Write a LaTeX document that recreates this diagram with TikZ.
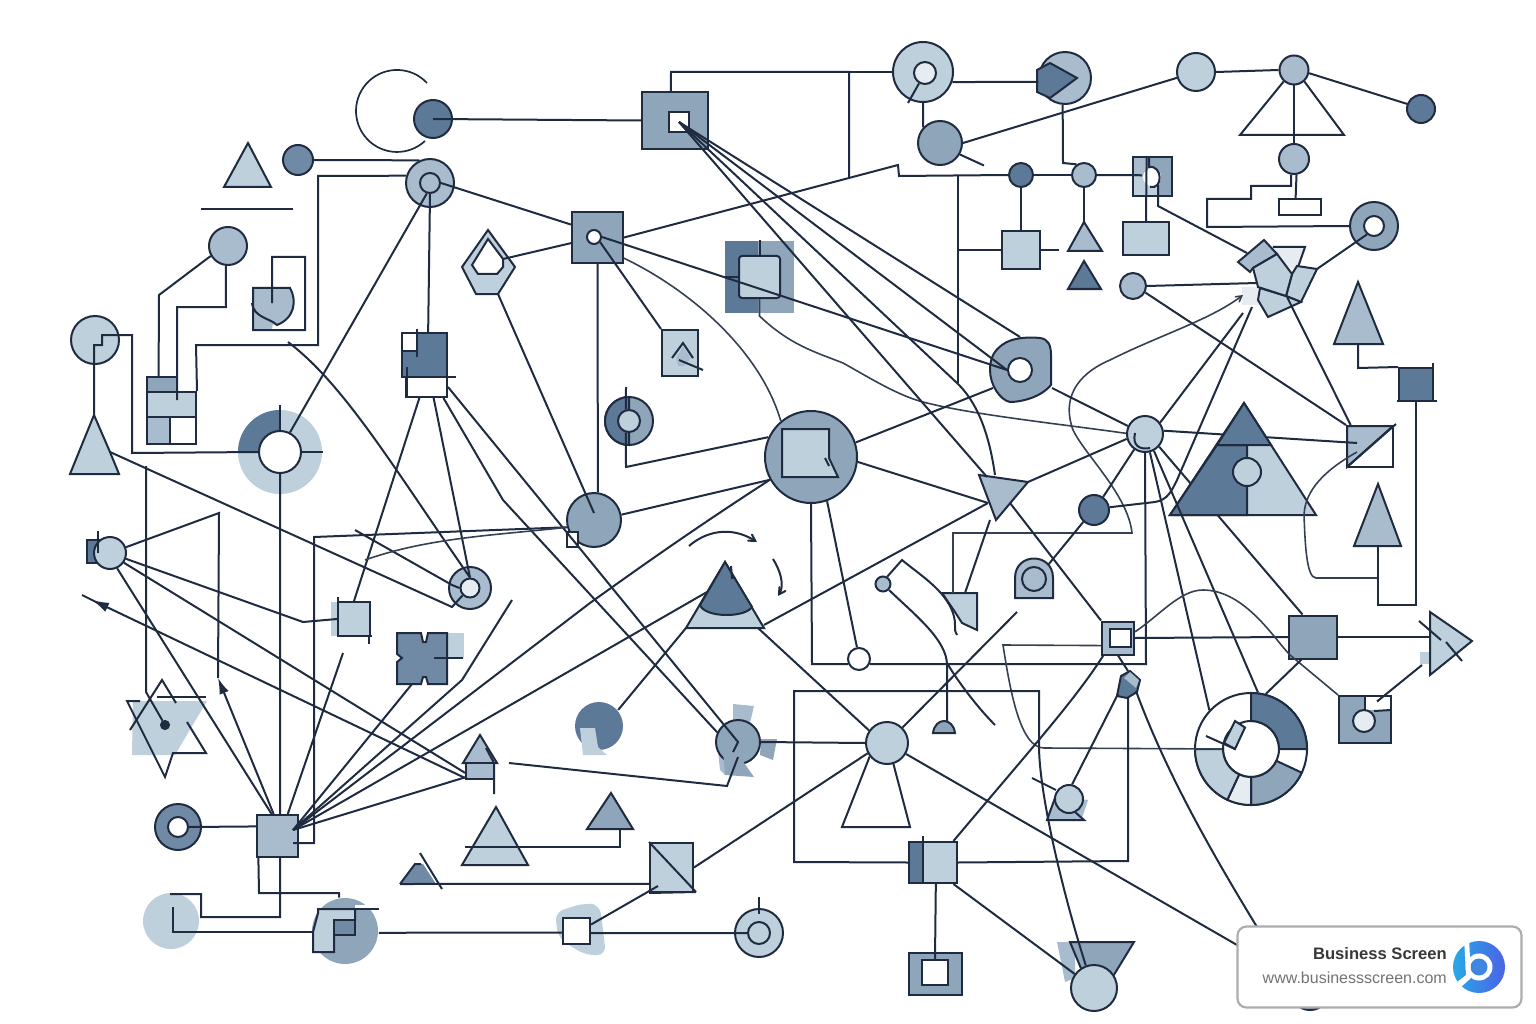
\documentclass[tikz,border=0pt]{standalone}
\usepackage{fontspec}
\newfontfamily\tagfont{Liberation Sans}
\usetikzlibrary{arrows,arrows.meta}
\definecolor{ink}{HTML}{1F2B40}
\definecolor{dark}{HTML}{5C7998}
\definecolor{steel}{HTML}{7089A5}
\definecolor{mid}{HTML}{8FA5BA}
\definecolor{soft}{HTML}{A8BCCD}
\definecolor{pale}{HTML}{BDD0DC}
\definecolor{faint}{HTML}{E6ECF0}
\definecolor{logoL}{HTML}{29A9E6}
\definecolor{logoR}{HTML}{4B63E6}
\definecolor{logoC}{HTML}{3F86E0}
\tikzstyle{disc} = [circle, draw=ink, line width=2pt, inner sep=0pt]
\tikzstyle{block} = [rectangle, draw=ink, line width=2pt, inner sep=0pt]
\tikzstyle{form} = [draw=ink, line width=2pt]
\tikzstyle{line} = [draw=ink, line width=2pt]
\tikzstyle{wire} = [draw=ink!90, line width=1.6pt]
\tikzset{dim/.style n args={2}{minimum width=#1,minimum height=#2}}
\newcommand{\donutpart}[3]{\draw [form, fill=#3, shift={(1251,749)}] (#1:28) arc[start angle=#1,end angle=#2,radius=28] -- (#2:56) arc[start angle=#2,end angle=#1,radius=56] -- cycle;}

\begin{document}
\begin{tikzpicture}[x=1pt, y=-1pt]
	\useasboundingbox (0,0) rectangle (1536,1024);
	% Place nodes
	\node [disc, fill=dark, minimum size=38] (moon) at (433,119) {};
	\node [disc, fill=steel, minimum size=30] (dotA) at (298,160) {};
	\node [disc, fill=soft, minimum size=48] (ringA) at (430,183) {};
	\node [disc, fill=soft, minimum size=20] (holeA) at (430,183) {};
	\node [disc, fill=soft, minimum size=38] (discB) at (228,246) {};
	\node [disc, fill=pale, minimum size=48] (discC) at (95,340) {};
	\node [disc, draw=none, fill=pale, minimum size=84] (ringB) at (280,452) {};
	\fill [dark] (280,452) -- (238,452) arc[start angle=180,end angle=270,radius=42] -- cycle;
	\node [disc, fill=white, minimum size=42] (holeB) at (280,452) {};
	\node [block, fill=mid, dim={30}{15}] (stackA) at (162,384.5) {};
	\node [block, fill=pale, dim={49}{25}] (stackB) at (171.5,404.5) {};
	\node [block, fill=soft, dim={23}{27}] (stackC) at (158.5,430.5) {};
	\node [block, fill=white, dim={26}{27}] (stackD) at (183,430.5) {};
	\draw [form, fill=pale] (248,143) -- (224,187) -- (271,187) -- cycle;
	\path [line] (201,209) -- (293,209);
	\draw [form, fill=pale] (94,415) coordinate (triD) -- (70,474) -- (119,474) -- (110,452) coordinate (triDr) -- cycle;
	\fill [soft] (253,288) -- (290,288) .. controls (297,300) and (295,318) .. (277,325) .. controls (272,325) and (273,322) .. (272,330) -- (253,330) -- cycle;
	\path [line] (272,303) -- (272,257) -- (305,257) -- (305,330) -- (253,330) -- (253,288) -- (290,288) .. controls (297,300) and (295,318) .. (277,325) .. controls (270,318) and (254,318) .. (252,303);
	\draw [form, fill=pale] (488,230) -- (515,267) -- (498,294) coordinate (hexB) -- (476,294) -- (462,267) -- cycle;
	\draw [form, fill=white] (488,239) -- (503,259) coordinate (hexR) -- (503,267) -- (497,274) -- (478,274) -- (472,265) -- cycle;
	\node [block, fill=dark, dim={45}{44}] (keepA) at (424.5,355) {};
	\node [block, fill=white, dim={41}{20}] (keepB) at (426.5,387) {};
	\node [block, fill=white, dim={15}{18}] (keepC) at (409.5,342) {};
	\node [block, fill=mid, dim={51}{51}] (gate) at (597.5,237.5) {};
	\node [disc, fill=white, minimum size=14] (holeG) at (594,237) {};
	\node [block, fill=mid, dim={66}{57}] (port) at (675,120.5) {};
	\node [block, fill=white, dim={20}{20}] (portin) at (679,122) {};
	\node [block, draw=none, fill=mid, dim={69}{72}] (frame) at (759.5,277) {};
	\node [block, draw=none, fill=dark, dim={33}{72}] (frameL) at (741.5,277) {};
	\node [block, fill=pale, rounded corners=3pt, dim={41}{42}] (framein) at (759.5,277) {};
	\node [block, fill=pale, dim={36}{46}] (note) at (680,353) {};
	\fill [soft] (683,347) -- (691,358) -- (684,366) -- (678,366) -- (676,358) -- cycle;
	\node [disc, fill=mid, minimum size=48] (ringC) at (629,421) {};
	\draw [form, fill=dark] (629,397) arc[start angle=270,end angle=90,radius=24] -- cycle;
	\node [disc, fill=pale, minimum size=22] (holeC) at (629,421) {};
	\node [disc, fill=mid, minimum size=92] (core) at (811,457) {};
	\draw [form, fill=pale] (782,429) -- (829,429) -- (829,458) -- (838,477) -- (782,477) -- cycle;
	\node [disc, fill=pale, minimum size=60] (ringD) at (923,72) {};
	\node [disc, fill=faint, minimum size=22] (holeD) at (925,73) {};
	\node [disc, fill=soft, minimum size=52] (kite) at (1065,78) {};
	\draw [form, fill=dark] (1037,70) -- (1050,63) -- (1077,78) -- (1050,98) -- (1037,92) -- cycle;
	\node [disc, fill=mid, minimum size=44] (discE) at (940,143) {};
	\node [disc, fill=pale, minimum size=38] (discF) at (1196,72) {};
	\node [disc, fill=soft, minimum size=29] (discG) at (1294,70) {};
	\node [disc, fill=dark, minimum size=28] (discH) at (1421,109) {};
	\node [disc, fill=soft, minimum size=30] (discI) at (1294,159) {};
	\node [block, fill=white, dim={42}{16}] (rectJ) at (1300,207) {};
	\node [disc, fill=mid, minimum size=48] (ringE) at (1374,226) {};
	\node [disc, fill=white, minimum size=20] (holeE) at (1374,226) {};
	\node [disc, fill=dark, minimum size=24] (dotK) at (1021,175) {};
	\node [block, fill=pale, dim={38}{38}] (boxK) at (1021,250) {};
	\node [disc, fill=soft, minimum size=24] (dotL) at (1084,175) {};
	\draw [form, fill=soft] (1084,222) coordinate (triE) -- (1068,251) -- (1102,251) -- cycle;
	\draw [form, fill=dark] (1084,261) -- (1068,289) -- (1101,289) -- cycle;
	\node [block, fill=mid, dim={39}{39}] (splitM) at (1152.5,176.5) {};
	\fill [soft] (1134,158) rectangle (1149,195);
	\fill [pale] (1134,177) rectangle (1158,195);
	\node [disc, draw=none, fill=white, minimum size=18] (holeM) at (1152,177) {};
	\draw [form] (1149,157) -- (1149,167) .. controls (1163,165) and (1163,190) .. (1150,187);
	\node [block, fill=pale, dim={46}{33}] (boxM) at (1146,238.5) {};
	\node [disc, fill=soft, minimum size=26] (discN) at (1133,286) {};
	% cluster of plates
	\fill [faint] (1242,287) rectangle (1260,305);
	\fill [faint] (1264,245) -- (1305,247) -- (1297,270) -- (1273,262) -- cycle;
	\path [line] (1273,247) -- (1305,247) -- (1297,270);
	\draw [form, fill=soft] (1238,262) -- (1264,240) -- (1277,254) -- (1253,268) -- (1250,272) -- cycle;
	\draw [form, fill=pale] (1297,266) -- (1317,269) coordinate (clusR) -- (1301,302) -- (1286,296) -- (1292,274) -- cycle;
	\draw [form, fill=pale] (1258,300) -- (1268,317) -- (1301,302) -- (1286,296) -- (1260,288) -- cycle;
	\draw [form, fill=pale] (1253,268) -- (1277,254) -- (1292,274) -- (1286,296) -- (1258,287) -- cycle;
	\coordinate (clusL) at (1247,253);
	\coordinate (clusW) at (1257,283);
	\coordinate (clusB) at (1287,297);
	\coordinate (clusS) at (1243,313);
	\coordinate (clusT) at (1252,307);
	\coordinate (clusA) at (1243,295);
	\draw [form, fill=soft] (1358,282) -- (1334,344) -- (1383,344) -- cycle;
	\coordinate (triM) at (1358,344);
	\node [block, fill=dark, dim={34}{33}] (sink) at (1416,384.5) {};
	\node [disc, fill=pale, minimum size=36] (hub) at (1145,434) {};
	\node [block, fill=white, dim={46}{41}] (split) at (1370,446.5) {};
	\draw [form, fill=soft] (1347,426) -- (1393,426) -- (1347,467) -- cycle;
	\draw [form] (1347,467) -- (1396,424);
	\node [block, fill=mid, dim={48}{43}] (relay) at (1313,637) {};
	% Draw edges behind the big triangle
	\path [line] (hub.10) -- (1357,443);
	\path [line] (hub.-42) -- (relay.115);
	\draw [form, fill=pale] (1244,403) -- (1170,515) -- (1316,515) -- cycle;
	\draw [form, fill=dark] (1247,515) -- (1170,515) -- (1217,445) -- (1247,445) -- cycle;
	\draw [form, fill=dark] (1244,403) -- (1217,445) -- (1271,445) -- cycle;
	\path [line] (1247,445) -- (1247,515);
	\node [disc, fill=pale, minimum size=28] (discO) at (1247,472) {};
	\draw [form, fill=soft] (1378,484) -- (1354,546) -- (1401,546) -- cycle;
	\coordinate (triN) at (1378,546);
	\node [disc, fill=dark, minimum size=30] (discP) at (1094,510) {};
	\draw [form, fill=soft] (1015,598) -- (1015,578) .. controls (1015,552) and (1053,552) .. (1053,578) -- (1053,598) -- cycle;
	\coordinate (hoodR) at (1048,565);
	\node [disc, fill=soft, minimum size=24] (hoodin) at (1034,579) {};
	\draw [form, fill=soft] (979,475) coordinate (triC) -- (1028,482) coordinate (triCr) -- (996,520) -- cycle;
	\coordinate (triCt) at (987,477);
	\coordinate (triCl) at (988,503);
	\coordinate (triCb) at (990,520);
	\coordinate (triCs) at (1010,503);
	\draw [form, fill=pale] (942,593) -- (977,593) -- (977,630) -- (962,623) -- (955,612) -- cycle;
	\node [disc, fill=soft, minimum size=15] (dotQ) at (883,584) {};
	\node [disc, fill=white, minimum size=22] (tap) at (859,659) {};
	\draw [form, fill=mid] (933,733) .. controls (935,717) and (953,717) .. (955,733) -- cycle;
	\node [disc, fill=mid, minimum size=54] (discR) at (594,520) {};
	\node [block, fill=white, dim={11}{15}] (smallbox) at (572.5,539.5) {};
	\node [disc, fill=soft, minimum size=42] (ringF) at (470,588) {};
	\node [disc, fill=faint, minimum size=19] (holeF) at (470,588) {};
	\fill [pale] (331,602) rectangle (345,636);
	\node [block, fill=pale, dim={32}{34}] (boxS) at (354,619) {};
	\fill [pale] (447,633) rectangle (464,658);
	\draw [form, fill=steel] (397,633) -- (421,633) -- (423,642) -- (426,642) -- (428,633) -- (447,633) -- (447,684) -- (428,684) -- (426,677) -- (423,677) -- (421,684) -- (397,684) -- (397,662) -- (402,658) -- (397,654) -- cycle;
	\coordinate (crossB) at (412,684);
	\node [block, fill=dark, dim={13}{23}] (discTb) at (93.5,551.5) {};
	\node [disc, fill=pale, minimum size=32] (discT) at (110,553) {};
	\fill [pale] (133,701) -- (207,701) -- (175,755) -- (132,755) -- cycle;
	\node [disc, fill=ink, minimum size=8] (starDot) at (165,725) {};
	\node [disc, fill=steel, minimum size=46] (ringG) at (178,827) {};
	\node [disc, fill=white, minimum size=20] (holeR) at (178,827) {};
	\node [block, fill=soft, dim={41}{42}] (root) at (277.5,836) {};
	\node [disc, draw=none, fill=pale, minimum size=56] (moonB) at (171,921) {};
	\node [disc, draw=none, fill=mid, minimum size=66] (stepA) at (345,931) {};
	\draw [form, fill=pale] (313,952) -- (313,932) coordinate (stepL) -- (318,913) -- (318,909) -- (355,909) -- (355,920) -- (334,920) -- (334,952) -- cycle;
	\fill [white] (355,905) rectangle (380,908);
	\path [line] (355,909) -- (379,909);
	\node [block, fill=steel, dim={21}{15}] (stepB) at (344.5,927.5) {};
	\draw [form, fill=pale] (496,807) -- (462,865) -- (528,865) -- cycle;
	\draw [form, fill=mid] (611,793) -- (587,829) coordinate (triKl) -- (633,829) -- cycle;
	\coordinate (triK) at (620,829);
	\fill [steel] (400,884) -- (415,864) -- (423,864) -- (436,884) -- cycle;
	\path [line] (400,884) -- (415,864) -- (421,864);
	\coordinate (triL) at (400,884);
	\draw [form, fill=soft] (480,735) -- (463,763) -- (497,763) -- cycle;
	\node [block, fill=soft, dim={28}{16}] (cap) at (480,771) {};
	\node [disc, draw=none, fill=dark, minimum size=48] (pie) at (599,726) {};
	\fill [pale] (580,728) -- (595,728) -- (598,747) -- (607,755) -- (583,755) -- cycle;
	\draw [form, fill=pale] (725,562) -- (686,628) coordinate (triHl) -- (764,628) coordinate (triHr) -- cycle;
	\draw [form, fill=dark] (725,562) -- (752,607) .. controls (745,618) and (705,618) .. (700,605) -- cycle;
	\path [line] (731,566) -- (732,578) -- (735,577);
	\coordinate (triHm) at (707,592);
	\coordinate (triHe) at (764,625);
	\coordinate (triHb) at (758,628);
	\fill [soft] (733,704) -- (754,706) -- (750,723) -- (733,722) -- cycle;
	\fill [mid] (761,739) -- (777,739) -- (773,760) -- (760,755) -- cycle;
	\fill [soft] (718,750) -- (737,753) -- (725,775) -- (720,770) -- cycle;
	\node [disc, fill=mid, minimum size=44] (spike) at (738,742) {};
	\fill [mid] (723,750) -- (737,753) -- (754,777) -- (725,775) -- cycle;
	\node [disc, fill=pale, minimum size=42] (hubB) at (887,743) {};
	\node [block, fill=dark, dim={14}{41}] (footL) at (916,862.5) {};
	\node [block, fill=pale, dim={34}{41}] (footR) at (940,862.5) {};
	\node [block, fill=mid, dim={53}{42}] (boxU) at (935.5,974) {};
	\node [block, fill=white, dim={26}{25}] (boxUin) at (935,972.5) {};
	\fill [pale, rounded corners=9pt] (555,912) -- (585,903) -- (600,905) -- (606,955) -- (585,955) -- (558,938) -- cycle;
	\node [block, fill=white, dim={27}{26}] (wbox) at (576.5,931) {};
	\node [disc, fill=pale, minimum size=48] (ringH) at (759,933) {};
	\node [disc, fill=pale, minimum size=22] (holeH) at (759,933) {};
	\node [block, fill=pale, dim={43}{49}] (slash) at (671.5,867.5) {};
	\node [block, fill=soft, dim={32}{33}] (link) at (1118,638) {};
	\node [block, fill=white, dim={21}{18}] (linkin) at (1120,638) {};
	\fill [pale] (1420,652) rectangle (1440,664);
	\draw [form, fill=pale] (1430,612) -- (1472,641) -- (1430,675) -- cycle;
	\coordinate (triO) at (1430,637);
	\coordinate (triOb) at (1422,665);
	\node [block, fill=mid, dim={52}{47}] (pad) at (1365,719.5) {};
	\fill [white] (1365,697) rectangle (1390,710);
	\node [disc, fill=faint, minimum size=22] (holeP) at (1364,721) {};
	\node [disc, fill=white, minimum size=112] (donut) at (1251,749) {};
	\node [disc, fill=white, minimum size=56] (donutin) at (1251,749) {};
	\donutpart{-90}{0}{dark}
	\donutpart{25}{90}{mid}
	\donutpart{90}{115}{faint}
	\donutpart{115}{180}{pale}
	\draw [form, fill=pale] (1235,721) -- (1245,727.5) -- (1235,749) -- (1224,743) -- cycle;
	\draw [form, fill=dark] (1117,696) -- (1121,676) -- (1130,671) -- (1140,680) -- (1137,692) -- (1127,698) -- cycle;
	\fill [soft] (1124,678) -- (1130,672) -- (1139,680) -- (1136,688) -- cycle;
	\coordinate (blobT) at (1128,671);
	\coordinate (blobL) at (1118,694);
	\coordinate (blobB) at (1128,697);
	\coordinate (blobS) at (1136,691);
	\fill [soft] (1075,798) -- (1088,800) -- (1082,818) -- (1070,815) -- cycle;
	\draw [form, fill=soft] (1047,820) -- (1056,795) -- (1084,820) -- cycle;
	\node [disc, fill=pale, minimum size=28] (discV) at (1069,799) {};
	\fill [soft] (1057,942) -- (1075,942) -- (1075,978) -- (1065,982) -- cycle;
	\draw [form, fill=mid] (1070,942) -- (1134,942) -- (1112,978) -- (1085,978) -- cycle;
	\node [disc, fill=pale, minimum size=46] (base) at (1094,988) {};
	\node [disc, fill=dark, minimum size=40] (domeT) at (1310,990) {};
	\draw [form, fill=mid] (1002,345) .. controls (1012,337) and (1030,337) .. (1040,338) .. controls (1048,339) and (1051,345) .. (1051,355) -- (1051,385) .. controls (1040,398) and (1020,402) .. (1010,402) .. controls (1000,400) and (990,385) .. (990,370) .. controls (990,357) and (995,350) .. (1002,345) -- cycle;
	\node [disc, fill=white, minimum size=24] (holeU) at (1020,370) {};
	\coordinate (blobTop) at (1020,337);
	\coordinate (blobLeft) at (993,388);
	\coordinate (blobRight) at (1052,388);
	% Loose ends
	\coordinate (fan) at (293,830);
	\coordinate (bendA) at (288,342);
	\coordinate (bendB) at (365,560);
	\coordinate (startB) at (355,530);
	\coordinate (tapA) at (293,843);
	\coordinate (spineA) at (146,466);
	\coordinate (farA) at (82,595);
	\coordinate (headA) at (92,600);
	\coordinate (headB) at (218,678);
	\coordinate (endI) at (343,653);
	\coordinate (endB) at (512,600);
	\coordinate (endH) at (1017,612);
	\coordinate (startT) at (626,387);
	\coordinate (startJ) at (465,847);
	\coordinate (startM) at (170,894);
	\coordinate (startN) at (173,907);
	\coordinate (tickS) at (177,400);
	\coordinate (splitC) at (1357,452);
	% Draw edges
	\path [line] (moon.center) -- (port.west);
	\path [line] (dotA.east) -- (ringA.115);
	\path [line] (ringA.163) -- (318,176) -- (318,345) -- (196,345) -- (stackB.north east);
	\path [line] (discB.210) -- (159,295) -- (stackA.112);
	\path [line] (discB.264) -- (226,307) -- (177,307) -- (tickS);
	\path [line] (triD) -- (94,345) -- (102,345) -- (102,335) -- (132,335) -- (132,453) -- (holeB.west);
	\path [line] (holeB.north) -- ++(0,-25);
	\path [line] (holeB.east) -- ++(21,0);
	\path [line] (holeB.south) -- (root.83);
	\path [line] (holeB.63) -- (holeA.253);
	\path [line] (holeA.south) -- (keepA.81);
	\path [line] (holeA.east) -- (gate.154);
	\path [line] (403,377) -- (456,377);
	\path [line] (417,329) -- (417,357);
	\path [line] (407,367) -- (407,397);
	\path [line] (hexR) -- (gate.192);
	\path [line] (hexB) -- ([yshift=7pt]discR.center);
	\path [line] (gate.south) -- (discR.82);
	\path [line] (bendA) .. controls (345,385) and (395,470) .. (holeF.north);
	\path [line] (keepB.237) -- (boxS.north);
	\path [line] (keepB.303) -- (holeF.north);
	\path [line] (keepB.327) -- (503,500) -- (spike.155);
	\path [line] (keepB.east) -- (spike.center) -- ++(-5,10);
	\path [line] (triDr) -- (452,607) -- (holeF.225);
	\path [line] (tapA) -- (314,843) -- (314,537) -- (discR.195);
	\path [line] (startB) -- (452,585) -- (holeF.west);
	\path [wire] (bendB) .. controls (430,537) and (500,535) .. (discR.195);
	\path [line] (discR.11) -- (core.209);
	\path [line] (startT) -- (holeC.105);
	\path [line] (holeC.255) -- (626,467) -- (core.155);
	\path [line] (holeG.east) -- (holeU.west);
	\path [line] (gate.east) -- (898,165) -- (899,176) -- (dotK.west);
	\path [line] (dotK.east) -- (dotL.west);
	\path [line] (holeG.-40) -- (note.north west);
	\path [wire] (gate.-38) .. controls (690,290) and (760,350) .. (core.130);
	\path [line] (framein.north) -- (frame.north);
	\path [line] (framein.west) -- (frame.west);
	\path [wire] (framein.south) -- ++(0,17) .. controls (790,345) and (815,352) .. (843,363) .. controls (870,378) and (900,397) .. (927,403) .. controls (975,415) and (1060,424) .. (hub.178);
	\path [line] (672,358) -- (683,343) -- (693,358);
	\path [line] (703,370) -- (679,360);
	\path [line] (port.98) -- (671,72) -- (849,72) -- (849,177);
	\path [line] (849,72) -- (ringD.west);
	\path [line] (portin.center) -- (blobTop);
	\path [line] (portin.center) -- (holeU.west);
	\path [line] (portin.center) -- (957,383) .. controls (980,405) and (990,440) .. (995,475);
	\path [line] (portin.center) -- (triCt);
	\path [line] (958,176) -- (958,383);
	\path [line] (958,250) -- (boxK.west);
	\path [line] (boxK.east) -- ++(18,0);
	\path [line] (dotK.south) -- (boxK.north);
	\path [line] (ringD.341) -- (kite.188);
	\path [line] (holeD.240) -- (908,103);
	\path [line] (ringD.south) -- (discE.137);
	\path [line] (discE.-30) -- ++(24,11);
	\path [line] (discE.0) -- (discF.197);
	\path [line] (kite.265) -- (1063,163) -- (dotL.125);
	\path [line] (discF.east) -- (discG.west);
	\path [line] (discG.south) -- (discI.north);
	\path [line] (discG.228) -- (1240,135) -- (1344,135) -- (discG.312);
	\path [line] (discG.-12) -- (discH.160);
	\path [line] (discI.260) -- (1291,186) -- (1251,186) -- (1251,199) -- (1207,199) -- (1207,227) -- (ringE.west);
	\path [line] (discI.279) -- (rectJ.116);
	\path [line] (holeE.230) -- (clusR);
	\path [line] (dotL.south) -- (triE);
	\path [line] (dotL.east) -- (holeM.170);
	\path [line] (splitM.106) -- (boxM.north);
	\path [line] (holeM.307) -- (1158,206) -- (clusL);
	\path [line] (discN.east) -- (clusW);
	\path [line] (discN.332) -- (split.north west);
	\path [line] (clusB) -- (split.132);
	\path [wire, ->, >=angle 60] (953,593) -- (953,533) -- (1132,533) .. controls (1128,495) and (1085,455) .. (1073,430) .. controls (1062,400) and (1075,375) .. (1110,360) .. controls (1160,335) and (1210,320) .. (clusA);
	\path [line] (hub.37) -- (clusS);
	\path [line] (hub.south) -- (1146,664) -- (tap.-25);
	\path [line] (hub.-75) -- (donut.137);
	\path [line] (hub.-62) -- (donut.83);
	\path [line] (hub.195) -- (triCr);
	\path [line] (discP.55) -- (hub.235);
	\path [line] (discP.10) -- (1155,502) .. controls (1168,500) and (1172,490) .. (1177,480) -- (clusT);
	\path [line] (discP.228) -- (hoodR);
	\path [line] (blobRight) -- (hub.155);
	\path [line] (core.18) -- (blobLeft);
	\path [line] (core.-6) -- (triCl);
	\path [line] (triHe) -- (triCl);
	\path [line] (triCb) -- (965,593);
	\path [line] (triCs) -- (link.north west);
	\path [line] (link.east) -- (relay.west);
	\path [line] (relay.east) -- (triO);
	\path [wire] (link.20) .. controls (1160,615) and (1180,590) .. (1203,590) .. controls (1245,590) and (1275,640) .. (1290,655) -- (pad.north west);
	\path [wire] (link.204) -- (1003,645) .. controls (1010,690) and (1020,748) .. (1044,748) -- (donutin.west);
	\path [line] (link.-130) .. controls (1075,700) and (1030,750) .. (footR.58);
	\path [line] (link.south) -- (blobT);
	\path [line] (blobL) -- (discV.78);
	\path [line] (1032,778) -- (1056,790);
	\path [line] (blobB) -- (1128,861) -- (footR.east);
	\path [line] (blobS) .. controls (1165,770) and (1210,850) .. (1257,927);
	\path [line] (hubB.-30) -- (1237,945);
	\path [line] (hubB.145) -- (triHb);
	\path [line] (hubB.45) -- (endH);
	\path [line] (hubB.west) -- (spike.east);
	\path [line] (hubB.218) -- (842,827) -- (910,827) -- (hubB.-73);
	\path [line] (hubB.208) -- (slash.east);
	\path [line] (footL.west) -- (794,862) -- (794,691) -- (1039,691) -- (1039,748) .. controls (1040,800) and (1065,900) .. (base.110);
	\path [line] (923,836) -- (923,883);
	\path [line] (footR.259) -- (boxUin.north);
	\path [line] (footR.-58) -- (base.144);
	\path [line] (core.south) -- (812,664) -- (tap.205);
	\path [line] (core.-70) -- (tap.100);
	\path [line] (pie.40) -- (triHl);
	\path [line] (fan) -- (crossB);
	\path [line] (fan) -- (462,680) -- (endB);
	\path [line] (fan) -- (590,603) .. controls (650,560) and (700,525) .. (core.209);
	\path [line] (fan) -- (triHm);
	\path [line] (fan) -- (cap.203);
	\path [line] (root.105) -- (discT.-65);
	\path [line, -{Latex[length=16pt,width=10pt]}] (root.100) -- (headB);
	\path [line] (headB) -- (219,513) -- (discT.20);
	\path [line] (root.65) -- (endI);
	\path [line] (discT.-20) -- (303,622) -- (boxS.west);
	\path [line] (discT.-35) -- (cap.187);
	\path [line, -{Latex[length=17pt,width=10pt]}] (cap.205) -- (headA);
	\path [line] ([shift={(8,4)}]headA) -- (farA);
	\path [line] (spineA) -- (146,692) -- (starDot);
	\path [line] (130,730) -- (162,680) -- (176,703);
	\path [line] (157,697) -- (206,697);
	\path [line] (140,701) -- (127,701) -- (165,777) -- (173,753) -- (206,753) -- (187,722);
	\path [line] (338,597) -- (338,602);
	\path [line] (369,644) -- (369,636) -- (372,636);
	\path [line] (434,658) -- (463,658);
	\path [line] (98,531) -- (98,553);
	\path [line] (holeR.east) -- (root.156);
	\path [line] (root.229) -- (259,893) -- (339,893) -- (stepA.100);
	\path [line] (root.-83) -- (280,917) -- (201,917) -- (201,894) -- (startM);
	\path [line] (startN) -- (173,932) -- (stepL);
	\path [line] (stepA.-3.5) -- (wbox.186);
	\path [line] (wbox.-8) -- (holeH.west);
	\path [line] (wbox.24) -- (658,886);
	\path [line] ([yshift=11pt]ringH.north) -- ([yshift=-6pt]ringH.north);
	\path [line] (startJ) -- (620,847) -- (triK);
	\path [line] (slash.216) -- (triL);
	\path [line] (420,853) -- (442,889);
	\path [line] (slash.north west) -- (696,892);
	\path [line] (slash.south west) -- (696,892);
	\path [line] (486,748) -- (494,763) -- (494,794);
	\path [line] (509,763) -- (727,786) -- ([yshift=-15pt]spike.center);
	\path [wire] (splitC) .. controls (1325,470) and (1305,490) .. (1304,515) .. controls (1305,540) and (1306,578) .. (1316,578) -- (1378,578);
	\path [line] (triN) -- (1378,605) -- (1416,605) -- (sink.south);
	\path [line] (triM) -- (1358,368) -- (sink.north west);
	\path [line] (1397,401) -- (1437,401);
	\path [line] (1433,401) -- (1433,363);
	\path [line] (relay.-117) -- (donut.75);
	\path [line] (triOb) -- ([shift={(12,-18)}]pad.center);
	\path [line] (1365,697) -- (1365,710);
	\path [line] (1374,711) -- (1391,710);
	\path [line] (1419,621) -- (1441,640);
	\path [line] (1446,642) -- (1462,661);
	\path [line] (1206,736) -- (1235,749);
	\path [line] (825,458) -- (829,466);
	\path [line] (dotQ.60) -- (902,560) .. controls (920,575) and (945,590) .. (953,613) .. controls (957,625) and (953,630) .. (957,635);
	\path [line] (dotQ.-45) .. controls (915,615) and (947,640) .. (947,665) -- (947,722);
	\path [line] (947,663) .. controls (960,685) and (980,710) .. (995,725);
	\path [line, ->, >=angle 60] (689,546) .. controls (705,532) and (730,525) .. (757,542);
	\path [line, ->, >=angle 60] (773,559) .. controls (780,570) and (785,585) .. (778,596);
	\draw [form, line width=1.7pt] (397,70) ++(30,13) arc[start angle=-43,end angle=-313,radius=41];
	\path [line] (1135,433) .. controls (1132,446) and (1140,450) .. (1150,448);
	% Badge
	\node [rectangle, draw=black!32, fill=white, line width=2.2pt, rounded corners=9pt, dim={284}{81}] (tag) at (1379.5,967) {};
	\node [anchor=base east, inner sep=0pt, text=black!78] (tagA) at (1447,959) {\tagfont\fontsize{16.6}{20}\selectfont\bfseries Business Screen};
	\node [anchor=base east, inner sep=0pt, text=black!55] (tagB) at (1447,983) {\tagfont\fontsize{16}{20}\selectfont www.businessscreen.com};
	\shade [left color=logoL, right color=logoR] (1479,967) circle (26);
	\node [disc, draw=none, fill=white, minimum size=27] (logoA) at (1479,967) {};
	\node [disc, draw=none, fill=logoC, minimum size=17] (logoB) at (1479,967) {};
	\fill [white] (1464,938) -- (1469,938) -- (1471,978) -- (1461,987) -- (1456,983) -- (1466,975) -- cycle;
\end{tikzpicture}
\end{document}
